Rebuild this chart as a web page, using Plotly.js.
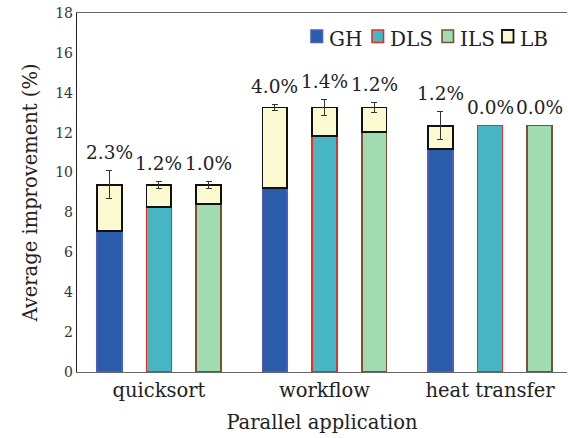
<!DOCTYPE html>
<html>
<head>
<meta charset="utf-8">
<script src="https://cdn.plot.ly/plotly-3.0.1.min.js"></script>
<style>html,body{margin:0;padding:0;background:#fff;}#chart{width:568px;height:438px;}</style>
</head>
<body>
<div id="chart"></div>
<script>
// ---- data ----
const apps = ['quicksort', 'workflow', 'heat transfer'];
const methods = ['GH', 'DLS', 'ILS'];
const ghValues  = [7.05, 9.24, 11.17];
const dlsValues = [8.26, 11.82, 12.35];
const ilsValues = [8.42, 12.02, 12.35];
// LB increment on top of each method bar (GH, DLS, ILS per app)
const lbGH  = [2.33, 4.02, 1.18];
const lbDLS = [1.12, 1.44, 0.0];
const lbILS = [0.96, 1.24, 0.0];
const errGH  = [0.70, 0.16, 0.69];
const errDLS = [0.17, 0.42, 0.0];
const errILS = [0.17, 0.23, 0.0];
const lbLabels = [
  ['2.3%', '1.2%', '1.0%'],
  ['4.0%', '1.4%', '1.2%'],
  ['1.2%', '0.0%', '0.0%']
];
const legendNames = ['GH', 'DLS', 'ILS', 'LB'];

// ---- layout helpers ----
const W = 568, H = 438;
const M = {l: 77, r: 1, t: 13, b: 66};
const offsets = [-0.3, 0, 0.3];
const barW = 0.15;
const serif = 'DejaVu Serif';
const groupX = apps.map((_, i) => i);
const posFor = k => groupX.map(g => g + offsets[k]);

const baseVals = [ghValues, dlsValues, ilsValues];
const lbVals = [lbGH, lbDLS, lbILS];
const errVals = [errGH, errDLS, errILS];
const styles = [
  {fill: '#2b5ca9', line: '#4a5fc0', lw: 1.6},
  {fill: '#46b6c4', line: '#e3302a', lw: 1.6},
  {fill: '#a1dbb1', line: '#7a5230', lw: 1.6},
  {fill: '#fbfad0', line: '#111111', lw: 1.8}
];

const traces = [];
methods.forEach((m, k) => {
  traces.push({
    type: 'bar', name: m, x: posFor(k), y: baseVals[k], width: barW,
    marker: {color: styles[k].fill, line: {color: styles[k].line, width: styles[k].lw}},
    hoverinfo: 'skip'
  });
});

const lbX = [], lbY = [], lbE = [];
methods.forEach((m, k) => {
  posFor(k).forEach((x, i) => {
    if (lbVals[k][i] > 0) { lbX.push(x); lbY.push(lbVals[k][i]); lbE.push(errVals[k][i]); }
  });
});
traces.push({
  type: 'bar', name: 'LB', x: lbX, y: lbY, width: barW,
  marker: {color: styles[3].fill, line: {color: styles[3].line, width: styles[3].lw}},
  error_y: {type: 'data', array: lbE, visible: true, color: '#333', thickness: 1, width: 3},
  hoverinfo: 'skip'
});

// value labels above bars
const annotations = [];
methods.forEach((m, k) => {
  posFor(k).forEach((x, i) => {
    const top = baseVals[k][i] + lbVals[k][i] + errVals[k][i];
    annotations.push({
      x: x, y: top, xref: 'x', yref: 'y', text: lbLabels[i][k], showarrow: false,
      yanchor: 'middle', yshift: 18, font: {family: serif, size: 18.5, color: '#222'}
    });
  });
});

// compact legend (square + name), laid out in pixel space of the figure
const pw = W - M.l - M.r, ph = H - M.t - M.b;
const px2x = px => (px - M.l) / pw;
const py2y = py => (H - M.b - py) / ph;
const legSquareLeft = [311, 372, 442, 502];
const legSq = 11.5, legSqTop = 30, legSqBottom = 42.5, legTextY = 39, legGap = 5;
const shapes = [];
legendNames.forEach((name, j) => {
  const x0 = legSquareLeft[j];
  shapes.push({
    type: 'rect', xref: 'paper', yref: 'paper',
    x0: px2x(x0), x1: px2x(x0 + legSq), y0: py2y(legSqBottom), y1: py2y(legSqTop),
    fillcolor: styles[j].fill, line: {color: styles[j].line, width: styles[j].lw}
  });
  annotations.push({
    xref: 'paper', yref: 'paper', x: px2x(x0 + legSq + legGap - 1), y: py2y(legTextY),
    xanchor: 'left', yanchor: 'middle', text: name, showarrow: false,
    font: {family: serif, size: 20, color: '#222'}
  });
});

const layout = {
  width: W, height: H,
  margin: M,
  paper_bgcolor: '#fff', plot_bgcolor: '#fff',
  barmode: 'stack',
  showlegend: false,
  xaxis: {
    range: [-0.495, 2.465], tickvals: groupX, ticktext: apps,
    showline: true, linecolor: '#666', linewidth: 1.2, mirror: true,
    showgrid: false, zeroline: false, ticks: '',
    tickfont: {family: serif, size: 19.5, color: '#222'},
    title: {text: 'Parallel application', font: {family: serif, size: 19.5, color: '#222'}, standoff: 14}
  },
  yaxis: {
    range: [0, 18], dtick: 2, showline: true, linecolor: '#222', linewidth: 1.2,
    showgrid: false, zeroline: false, ticks: '',
    tickfont: {family: serif, size: 14, color: '#333'},
    title: {text: 'Average improvement (%)', font: {family: serif, size: 19.5, color: '#222'}, standoff: 12}
  },
  annotations: annotations,
  shapes: shapes
};

Plotly.newPlot('chart', traces, layout, {displayModeBar: false, staticPlot: true});
</script>
</body>
</html>
